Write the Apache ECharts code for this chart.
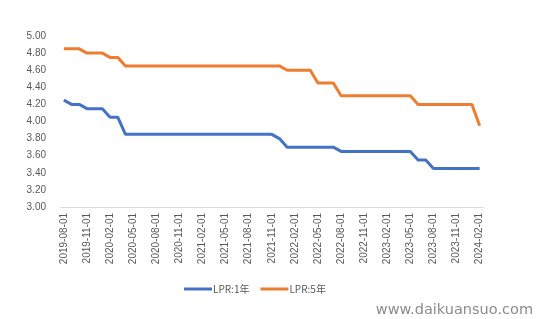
<!DOCTYPE html>
<html><head><meta charset="utf-8">
<script src="https://cdn.jsdelivr.net/npm/echarts@6/dist/echarts.min.js"></script>
<style>html,body{margin:0;padding:0;background:#fff}#c{width:536px;height:319px}</style>
</head><body><div id="c"></div>
<script>
const months = [
 '2019-08-01','2019-09-01','2019-10-01','2019-11-01','2019-12-01',
 '2020-01-01','2020-02-01','2020-03-01','2020-04-01','2020-05-01','2020-06-01','2020-07-01','2020-08-01','2020-09-01','2020-10-01','2020-11-01','2020-12-01',
 '2021-01-01','2021-02-01','2021-03-01','2021-04-01','2021-05-01','2021-06-01','2021-07-01','2021-08-01','2021-09-01','2021-10-01','2021-11-01','2021-12-01',
 '2022-01-01','2022-02-01','2022-03-01','2022-04-01','2022-05-01','2022-06-01','2022-07-01','2022-08-01','2022-09-01','2022-10-01','2022-11-01','2022-12-01',
 '2023-01-01','2023-02-01','2023-03-01','2023-04-01','2023-05-01','2023-06-01','2023-07-01','2023-08-01','2023-09-01','2023-10-01','2023-11-01','2023-12-01',
 '2024-01-01','2024-02-01'];
const lpr1 = [4.25,4.20,4.20,4.15,4.15,4.15,4.05,4.05,3.85,3.85,3.85,3.85,3.85,3.85,3.85,3.85,3.85,
 3.85,3.85,3.85,3.85,3.85,3.85,3.85,3.85,3.85,3.85,3.85,3.80,
 3.70,3.70,3.70,3.70,3.70,3.70,3.70,3.65,3.65,3.65,3.65,3.65,
 3.65,3.65,3.65,3.65,3.65,3.55,3.55,3.45,3.45,3.45,3.45,3.45,3.45,3.45];
const lpr5 = [4.85,4.85,4.85,4.80,4.80,4.80,4.75,4.75,4.65,4.65,4.65,4.65,4.65,4.65,4.65,4.65,4.65,
 4.65,4.65,4.65,4.65,4.65,4.65,4.65,4.65,4.65,4.65,4.65,4.65,
 4.60,4.60,4.60,4.60,4.45,4.45,4.45,4.30,4.30,4.30,4.30,4.30,
 4.30,4.30,4.30,4.30,4.30,4.20,4.20,4.20,4.20,4.20,4.20,4.20,4.20,3.95];
const seriesNames = ['LPR:1年','LPR:5年'];
const chart = echarts.init(document.getElementById('c'));
chart.setOption({
  animation:false,
  color:['#4472C4','#ED7D31'],
  grid:{left:60,right:52.5,top:36,bottom:112},
  legend:{bottom:20,left:179,itemWidth:28,itemHeight:3,itemGap:11,icon:'rect',
    textStyle:{color:'#595959',fontSize:10,fontFamily:'Noto Sans CJK SC',padding:[0,0,0,-4]},data:seriesNames},
  xAxis:{type:'category',data:months,boundaryGap:true,
    axisLine:{lineStyle:{color:'#D9D9D9'}},
    axisTick:{interval:2,length:5,lineStyle:{color:'#D9D9D9'}},
    axisLabel:{interval:2,rotate:90,color:'#595959',fontSize:10,fontFamily:'Liberation Sans',margin:6}},
  yAxis:{type:'value',min:3,max:5,interval:0.2,
    axisLine:{show:false},axisTick:{show:false},splitLine:{show:false},
    axisLabel:{formatter:v=>v.toFixed(2),color:'#595959',fontSize:10,fontFamily:'Liberation Sans',margin:14}},
  series:[
    {name:seriesNames[0],type:'line',data:lpr1,symbol:'none',lineStyle:{width:3}},
    {name:seriesNames[1],type:'line',data:lpr5,symbol:'none',lineStyle:{width:3}}
  ],
  graphic:[{type:'text',right:3,bottom:1,style:{text:'www.daikuansuo.com',fill:'#8c8c8c',
    font:'14.5px "DejaVu Sans"'}}]
});
</script></body></html>
